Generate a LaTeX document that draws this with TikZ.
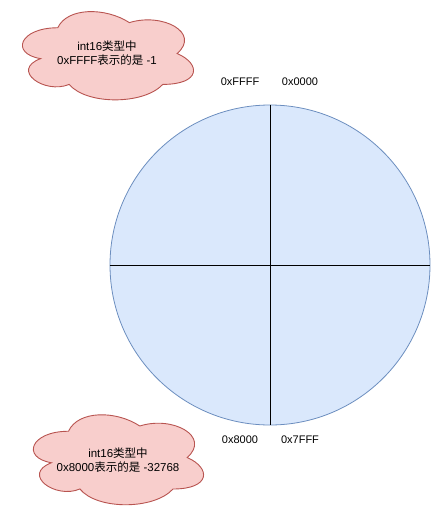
\documentclass[tikz,border=0pt]{standalone}
\usepackage{fontspec}
\setmainfont{Liberation Sans}
\newfontfamily\cjk{Noto Sans CJK SC}
\definecolor{cloudfill}{HTML}{F8CECC}
\definecolor{cloudline}{HTML}{B85450}
\definecolor{circfill}{HTML}{DAE8FC}
\definecolor{circline}{HTML}{6C8EBF}
\tikzset{
  cloudshape/.style={fill=cloudfill, draw=cloudline, line width=0.9pt},
  lbl/.style={font=\fontsize{11}{13}\selectfont, inner sep=0pt},
  cloudtext/.style={font=\fontsize{11.5}{14.5}\selectfont, align=center, inner sep=0pt},
}
\newcommand{\drawcloud}[4]{% x y w h
  \path[cloudshape] (#1+0.25*#3,#2+0.25*#4)
    .. controls (#1+0.05*#3,#2+0.25*#4) and (#1,#2+0.5*#4) .. (#1+0.16*#3,#2+0.55*#4)
    .. controls (#1,#2+0.66*#4) and (#1+0.18*#3,#2+0.9*#4) .. (#1+0.31*#3,#2+0.8*#4)
    .. controls (#1+0.4*#3,#2+#4) and (#1+0.7*#3,#2+#4) .. (#1+0.8*#3,#2+0.8*#4)
    .. controls (#1+#3,#2+0.8*#4) and (#1+#3,#2+0.6*#4) .. (#1+0.875*#3,#2+0.5*#4)
    .. controls (#1+#3,#2+0.3*#4) and (#1+0.8*#3,#2+0.1*#4) .. (#1+0.625*#3,#2+0.2*#4)
    .. controls (#1+0.5*#3,#2+0.05*#4) and (#1+0.3*#3,#2+0.05*#4) .. (#1+0.25*#3,#2+0.25*#4)
    -- cycle;}
\begin{document}
\begin{tikzpicture}[x=1pt,y=-1pt]
\useasboundingbox (0,0) rectangle (432,512);
% circle
\node[circle, fill=circfill, draw=circline, line width=0.8pt, minimum size=320pt, inner sep=0pt] (c) at (270,265) {};
\draw[black, line width=0.8pt] (c.north) -- (c.south);
\draw[black, line width=0.8pt] (c.west) -- (c.east);
% labels
\node[lbl] (ffff) at (240,82) {0xFFFF};
\node[lbl] (z0000) at (300,82) {0x0000};
\node[lbl] (x8000) at (240,440) {0x8000};
\node[lbl] (x7fff) at (300,440) {0x7FFF};
% clouds
\drawcloud{10}{2}{191}{103}
\node[cloudtext] (t1) at (107,53) {int16{\cjk 类型中}\\0xFFFF{\cjk 表示的是} -1};
\drawcloud{21}{405}{190}{105}
\node[cloudtext] (t2) at (118,460) {int16{\cjk 类型中}\\0x8000{\cjk 表示的是} -32768};
\end{tikzpicture}
\end{document}
